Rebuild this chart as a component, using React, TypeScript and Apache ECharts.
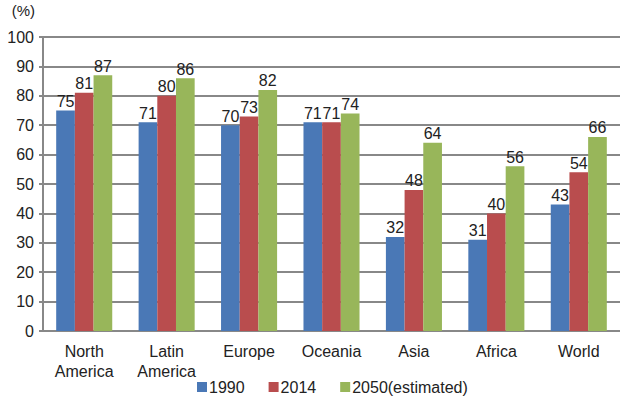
import React, { useEffect, useRef } from "react";
import * as echarts from "echarts";

const regions = ["North\nAmerica", "Latin\nAmerica", "Europe", "Oceania", "Asia", "Africa", "World"];
const share1990 = [75, 71, 70, 71, 32, 31, 43];
const share2014 = [81, 80, 73, 71, 48, 40, 54];
const share2050 = [87, 86, 82, 74, 64, 56, 66];
const seriesNames = ["1990", "2014", "2050(estimated)"];
const colors = ["#4a78b6", "#b94d4e", "#98b65a"];

const FONT = "'Liberation Sans', Arial, sans-serif";

export default function App() {
  const ref = useRef<HTMLDivElement>(null);

  useEffect(() => {
    if (!ref.current) return;
    const chart = echarts.init(ref.current, null, { renderer: "svg" });
    const values = [share1990, share2014, share2050];
    chart.setOption({
      animation: false,
      textStyle: { fontFamily: FONT },
      grid: { left: 43, right: -1, top: 37, bottom: 69, containLabel: false },
      legend: {
        top: 374,
        left: 192,
        itemWidth: 10,
        itemHeight: 10,
        itemGap: 24,
        icon: "rect",
        textStyle: { fontSize: 16, color: "#222", fontFamily: FONT, padding: [0, 0, 0, -3] },
        data: seriesNames,
      },
      xAxis: {
        type: "category",
        data: regions,
        axisLine: { lineStyle: { color: "#888", width: 2 } },
        axisTick: { show: false },
        axisLabel: { color: "#222", fontSize: 16, lineHeight: 20, margin: 10, fontFamily: FONT },
      },
      yAxis: {
        type: "value",
        min: 0,
        max: 100,
        interval: 10,
        name: "(%)",
        nameLocation: "end",
        nameGap: 19,
        nameTextStyle: { color: "#222", fontSize: 15, align: "right", padding: [0, 8, 0, 0], fontFamily: FONT },
        axisLine: { show: true, lineStyle: { color: "#888", width: 2 } },
        axisTick: { show: true, length: 4, lineStyle: { color: "#888", width: 2 } },
        axisLabel: { color: "#222", fontSize: 16, margin: 9, fontFamily: FONT },
        splitLine: { lineStyle: { color: "#888", width: 2 } },
      },
      series: seriesNames.map((name, i) => ({
        name,
        type: "bar",
        data: values[i],
        barGap: "0%",
        barCategoryGap: "32%",
        itemStyle: { color: colors[i] },
        label: {
          show: true,
          position: "top",
          distance: 1,
          color: "#222",
          fontSize: 16,
          fontFamily: FONT,
        },
      })),
    });
    return () => chart.dispose();
  }, []);

  return <div ref={ref} style={{ width: 620, height: 400, position: "absolute", left: 0, top: 0, background: "#fff" }} />;
}
